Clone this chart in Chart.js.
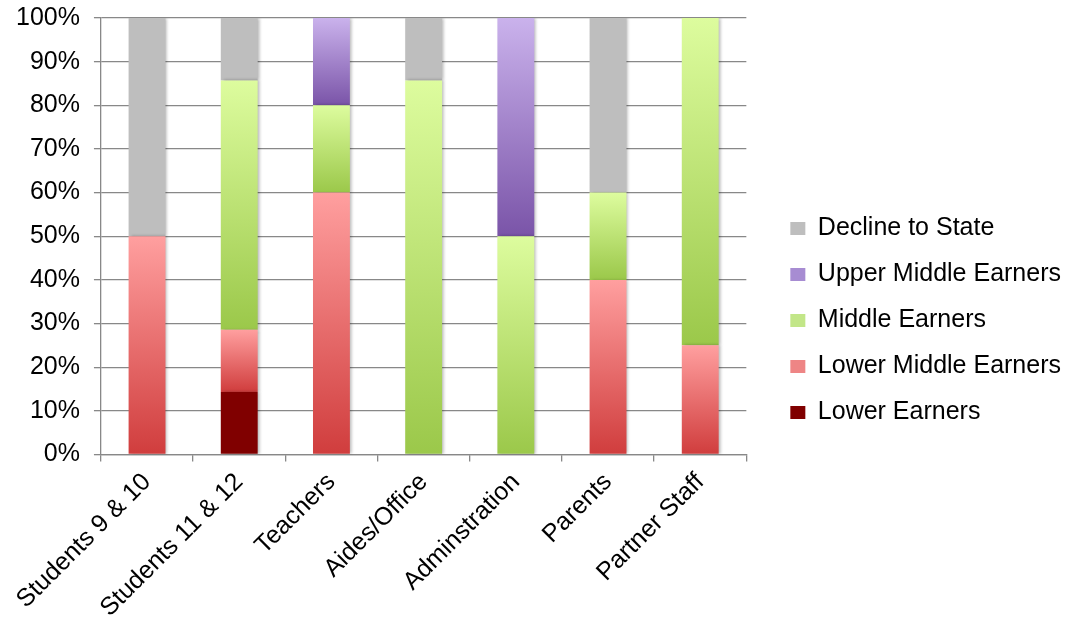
<!DOCTYPE html>
<html>
<head>
<meta charset="utf-8">
<script src="https://cdn.jsdelivr.net/npm/chart.js@4/dist/chart.umd.min.js"></script>
<style>
  html, body { margin: 0; padding: 0; background: #ffffff; }
  #wrap { width: 1071px; height: 629px; }
</style>
</head>
<body>
<div id="wrap"><canvas id="chart"></canvas></div>
<script>
// Income groups by respondent type, percent of each group (stacked to 100%)
const categories = ['Students 9 & 10', 'Students 11 & 12', 'Teachers', 'Aides/Office', 'Adminstration', 'Parents', 'Partner Staff'];
const lowerEarners       = [0,  14.3, 0,  0,    0,  0,  0];
const lowerMiddleEarners = [50, 14.3, 60, 0,    0,  40, 25];
const middleEarners      = [0,  57.1, 20, 85.7, 50, 20, 75];
const upperMiddleEarners = [0,  0,    20, 0,    50, 0,  0];
const declineToState     = [50, 14.3, 0,  14.3, 0,  40, 0];
const seriesNames = ['Lower Earners', 'Lower Middle Earners', 'Middle Earners', 'Upper Middle Earners', 'Decline to State'];
const yTickValues = [0, 10, 20, 30, 40, 50, 60, 70, 80, 90, 100];

// Bottom / top colours of each segment's vertical gradient, and legend swatches
const palette = {
  lower:       { bottom: '#800000', top: '#800000', swatch: '#800000' },
  lowerMiddle: { bottom: '#d03d3d', top: '#ff9f9f', swatch: '#ee8585' },
  middle:      { bottom: '#9bc84a', top: '#ddfc9e', swatch: '#c2e688' },
  upperMiddle: { bottom: '#7a54a8', top: '#cab2ec', swatch: '#a78cd2' },
  decline:     { bottom: '#bebebe', top: '#bebebe', swatch: '#bebebe' }
};

Chart.defaults.font.family = "'Liberation Sans', Arial, sans-serif";
Chart.defaults.color = '#000000';

// Fill each stacked segment with a gradient spanning just that segment
function segmentFill(colors) {
  return function (ctx) {
    const chart = ctx.chart;
    const yScale = chart.scales.y;
    if (ctx.type !== 'data' || !chart.chartArea || !yScale) return colors.top;
    const di = ctx.datasetIndex, i = ctx.dataIndex;
    let base = 0;
    for (let d = 0; d < di; d++) base += chart.data.datasets[d].data[i];
    const top = base + chart.data.datasets[di].data[i];
    const y0 = yScale.getPixelForValue(base);
    const y1 = yScale.getPixelForValue(top);
    if (!(Math.abs(y0 - y1) > 0)) return colors.top;
    const g = chart.ctx.createLinearGradient(0, y0, 0, y1);
    g.addColorStop(0, colors.bottom);
    g.addColorStop(1, colors.top);
    return g;
  };
}

const seriesValues = [lowerEarners, lowerMiddleEarners, middleEarners, upperMiddleEarners, declineToState];
const seriesColors = [palette.lower, palette.lowerMiddle, palette.middle, palette.upperMiddle, palette.decline];

const datasets = seriesValues.map((values, k) => ({
  label: seriesNames[k],
  data: values,
  backgroundColor: segmentFill(seriesColors[k]),
  borderWidth: 0,
  categoryPercentage: 1.0,
  barPercentage: 0.4
}));

// Soft drop shadow to the right of the bars
const barShadow = {
  id: 'barShadow',
  beforeDatasetsDraw(chart) {
    const c = chart.ctx;
    c.save();
    c.shadowColor = 'rgba(0,0,0,0.28)';
    c.shadowBlur = 3;
    c.shadowOffsetX = 2;
    c.shadowOffsetY = 0;
  },
  afterDatasetsDraw(chart) {
    chart.ctx.restore();
  }
};

const FONT_SIZE = 25;

new Chart(document.getElementById('chart'), {
  type: 'bar',
  data: { labels: categories, datasets },
  plugins: [barShadow],
  options: {
    responsive: true,
    maintainAspectRatio: false,
    animation: false,
    layout: { padding: { left: 2, top: 12, right: 0, bottom: 0 } },
    plugins: {
      tooltip: { enabled: false },
      legend: {
        position: 'right',
        align: 'center',
        reverse: true,
        maxWidth: 420,
        labels: {
          boxWidth: 15,
          boxHeight: 13,
          padding: 21,
          font: { size: FONT_SIZE },
          color: '#000000',
          generateLabels(chart) {
            return chart.data.datasets.map((ds, i) => ({
              text: ds.label,
              fillStyle: seriesColors[i].swatch,
              strokeStyle: seriesColors[i].swatch,
              lineWidth: 0,
              hidden: !chart.isDatasetVisible(i),
              datasetIndex: i
            }));
          }
        }
      }
    },
    scales: {
      x: {
        stacked: true,
        ticks: { autoSkip: false, minRotation: 45, maxRotation: 45, font: { size: FONT_SIZE }, color: '#000000', padding: 6 },
        grid: { offset: true, drawOnChartArea: false, drawTicks: true, tickLength: 7, color: '#888888', lineWidth: 1.3 },
        border: { color: '#888888', width: 1.3 }
      },
      y: {
        stacked: true,
        min: 0,
        max: 100,
        afterBuildTicks(scale) { scale.ticks = yTickValues.map(v => ({ value: v })); },
        ticks: { callback: v => v + '%', font: { size: FONT_SIZE, lineHeight: 0.32 }, color: '#000000', padding: 14 },
        grid: { color: '#888888', lineWidth: 1.3, drawTicks: true, tickLength: 7 },
        border: { color: '#888888', width: 1.3 }
      },
      gap: {
        position: 'right',
        display: true,
        grid: { display: false },
        border: { display: false },
        ticks: { display: false },
        afterFit(scale) { scale.width = 23; }
      }
    }
  }
});
</script>
</body>
</html>
